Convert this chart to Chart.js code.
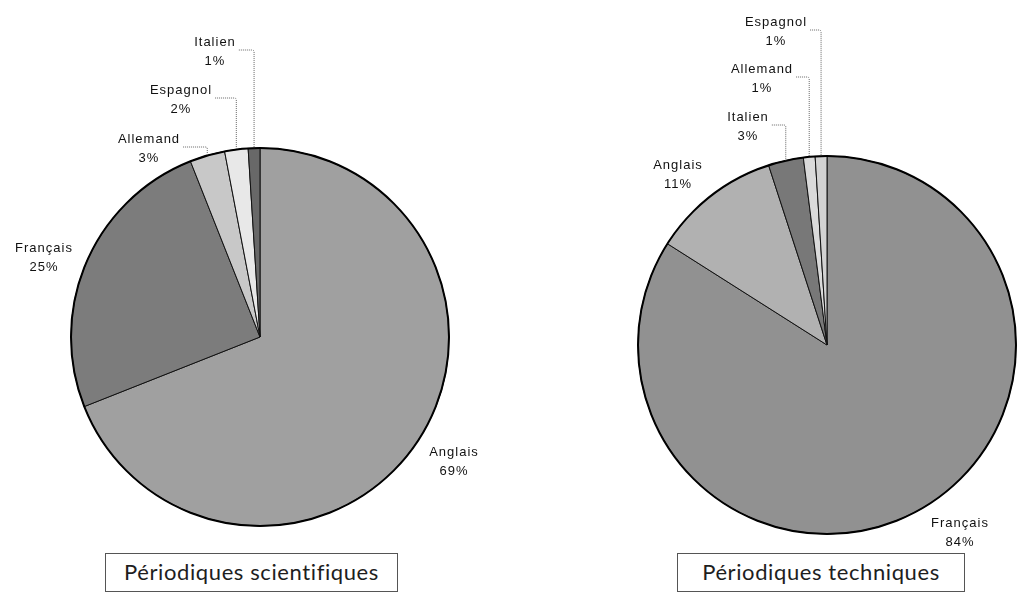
<!DOCTYPE html>
<html>
<head>
<meta charset="utf-8">
<script src="https://cdn.jsdelivr.net/npm/chart.js@4.4.1/dist/chart.umd.min.js"></script>
<style>
  html, body { margin: 0; padding: 0; background: #fff; width: 1018px; height: 592px; overflow: hidden; }
  canvas { position: absolute; left: 0; top: 0; }
  .title { position: absolute; box-sizing: border-box; height: 39px; border: 1px solid #555;
           font-family: Lato, "Open Sans", sans-serif; font-size: 22px; letter-spacing: 0.6px; color: #1e1e1e;
           text-align: center; line-height: 36px; background: #fff; }
</style>
</head>
<body>
<canvas id="sci" width="1018" height="592"></canvas>
<canvas id="tech" width="1018" height="592"></canvas>
<div class="title" id="t1" style="left:105px; top:553px; width:293px;"></div>
<div class="title" id="t2" style="left:677px; top:553px; width:288px;"></div>
<script>
// ---- data ----
const sciTitle = 'Périodiques scientifiques';
const sciLabels = ['Anglais', 'Français', 'Allemand', 'Espagnol', 'Italien'];
const sciValues = [69, 25, 3, 2, 1];

const techTitle = 'Périodiques techniques';
const techLabels = ['Français', 'Anglais', 'Italien', 'Allemand', 'Espagnol'];
const techValues = [84, 11, 3, 1, 1];

// ---- styles / layout ----
const sciColors = ['#a0a0a0', '#7c7c7c', '#c8c8c8', '#e8e8e8', '#686868'];
const techColors = ['#919191', '#b1b1b1', '#787878', '#dadada', '#d2d2d2'];
const sciLabelPos = [
  {x: 454, y: 452}, {x: 44, y: 248},
  {x: 149, y: 139, leader: true}, {x: 181, y: 90, leader: true}, {x: 215, y: 42, leader: true}
];
const techLabelPos = [
  {x: 960, y: 523}, {x: 678, y: 165},
  {x: 748, y: 117, leader: true}, {x: 762, y: 69, leader: true}, {x: 776, y: 22, leader: true}
];

document.getElementById('t1').textContent = sciTitle;
document.getElementById('t2').textContent = techTitle;

const outLabels = {
  id: 'outLabels',
  afterDatasetsDraw(chart, args, opts) {
    const ctx = chart.ctx;
    const meta = chart.getDatasetMeta(0);
    const ds = chart.data.datasets[0];
    const a0 = meta.data[0];
    ctx.save();
    ctx.beginPath();
    ctx.arc(a0.x, a0.y, a0.outerRadius, 0, Math.PI * 2);
    ctx.lineWidth = 2;
    ctx.strokeStyle = '#000';
    ctx.stroke();
    meta.data.forEach((arc, i) => {
      const pos = opts.positions[i];
      const name = chart.data.labels[i];
      const pct = ds.data[i] + '%';
      ctx.font = '13px "Liberation Sans", Arial, sans-serif';
      try { ctx.letterSpacing = '1px'; } catch (e) {}
      ctx.fillStyle = '#111';
      ctx.textAlign = 'center';
      ctx.textBaseline = 'middle';
      ctx.fillText(name, pos.x, pos.y);
      ctx.fillText(pct, pos.x, pos.y + 19);
      if (pos.leader) {
        const mid = (arc.startAngle + arc.endAngle) / 2;
        const px = arc.x + Math.cos(mid) * arc.outerRadius;
        const py = arc.y + Math.sin(mid) * arc.outerRadius;
        const w = ctx.measureText(name).width;
        const sx = pos.x + w / 2 + 3;
        const ly = pos.y + 8;
        ctx.setLineDash([1, 1]);
        ctx.strokeStyle = '#666';
        ctx.lineWidth = 1;
        ctx.beginPath();
        ctx.moveTo(sx, ly);
        ctx.lineTo(px - 2, ly);
        ctx.quadraticCurveTo(px, ly, px, ly + 2);
        ctx.lineTo(px, py);
        ctx.stroke();
        ctx.setLineDash([]);
      }
    });
    ctx.restore();
  }
};

function makePie(id, labels, values, colors, padding, positions) {
  return new Chart(document.getElementById(id), {
    type: 'pie',
    data: {
      labels: labels,
      datasets: [{
        data: values,
        backgroundColor: colors,
        borderColor: '#111',
        borderWidth: 1
      }]
    },
    options: {
      responsive: false,
      devicePixelRatio: 1,
      animation: false,
      radius: 189,
      layout: { padding: padding },
      events: [],
      plugins: {
        legend: { display: false },
        tooltip: { enabled: false },
        title: { display: false },
        outLabels: { positions: positions }
      }
    },
    plugins: [outLabels]
  });
}

makePie('sci', sciLabels, sciValues, sciColors,
  {left: 60, right: 558, top: 92, bottom: 10}, sciLabelPos);
makePie('tech', techLabels, techValues, techColors,
  {left: 636, right: 0, top: 108, bottom: 10}, techLabelPos);
</script>
</body>
</html>
